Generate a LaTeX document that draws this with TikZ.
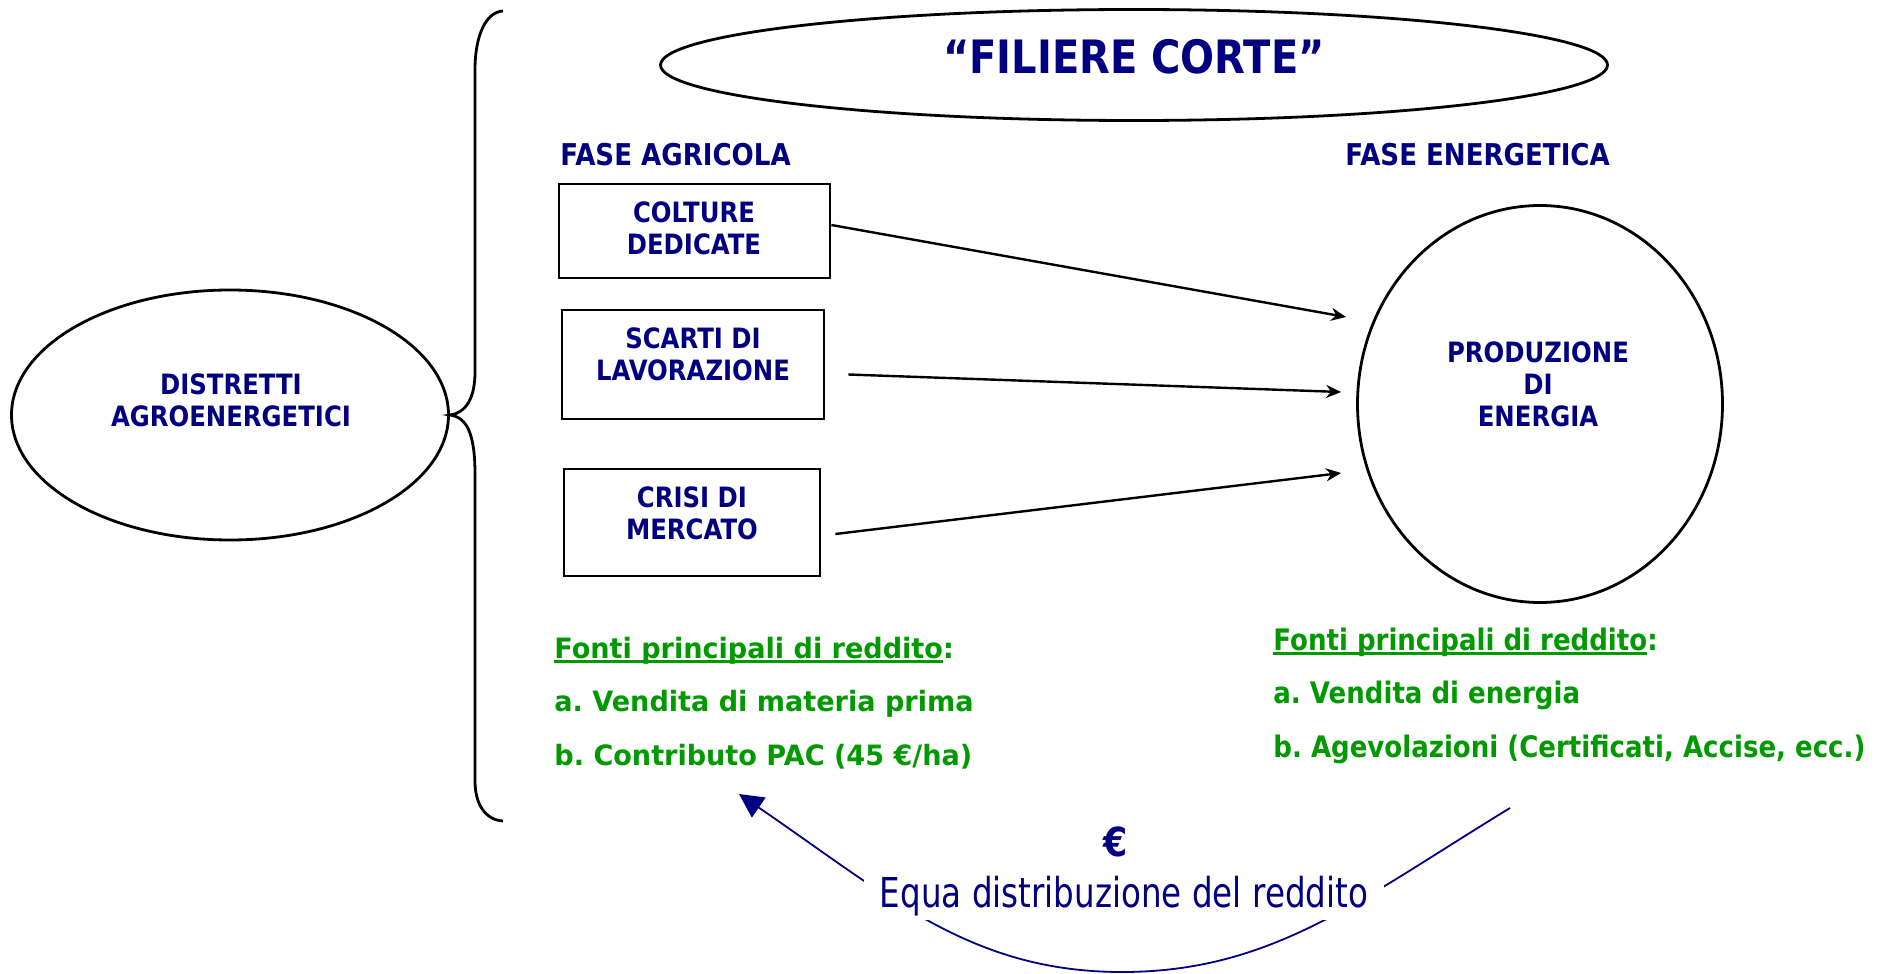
\documentclass[tikz,border=0pt]{standalone}
\usepackage{fontspec}
\setmainfont{DejaVu Sans}
\newfontfamily\fT{DejaVu Sans}[FakeStretch=0.87]
\newfontfamily\fG{DejaVu Sans}[FakeStretch=0.88]
\newfontfamily\fV{DejaVu Sans}[FakeStretch=0.967]
\newfontfamily\fR{DejaVu Sans}[FakeStretch=0.79]
\usetikzlibrary{shapes.geometric,arrows.meta}
\definecolor{navy}{RGB}{0,0,128}
\definecolor{grn}{RGB}{0,153,0}
\newcommand\myul[1]{\setbox0\hbox{#1}\rlap{\rule[-2.5pt]{\wd0}{1.4pt}}\box0}
\frenchspacing
\begin{document}
\begin{tikzpicture}[x=0.5pt,y=-0.5pt,
  bline/.style={line width=1.4pt, draw=black},
  btxt/.style={font=\fT\bfseries\fontsize{14}{16}\selectfont, text=navy, align=center, inner sep=0pt},
  htxt/.style={font=\fT\bfseries\fontsize{15}{18}\selectfont, text=navy, anchor=west, inner sep=0pt},
  boxr/.style={rectangle, bline, inner sep=0pt},
  ell/.style={ellipse, bline, inner sep=0pt},
  gtxtL/.style={text=grn, anchor=base west, inner sep=0pt, font=\fV\bfseries\fontsize{14}{16}\selectfont},
  gtxtR/.style={text=grn, anchor=base west, inner sep=0pt, font=\fG\bfseries\fontsize{14.8}{17}\selectfont},
  arr/.style={-{Stealth[length=7.5pt,width=6.5pt,inset=2.5pt]}, line width=1.2pt},
]
\useasboundingbox (0,0) rectangle (1886,974);

% title ellipse
\node[ell, minimum width=473.5pt, minimum height=55.5pt] (top) at (1134,65) {};
\node[font=\fT\bfseries\fontsize{23}{26}\selectfont, text=navy, inner sep=0pt] (title) at (1134,57) {“FILIERE CORTE”};

% left ellipse
\node[ell, minimum width=218.5pt, minimum height=125pt] (dist) at (230,415) {};
\node[btxt] (distT) at (231,400) {DISTRETTI\\AGROENERGETICI};

% brace
\draw[bline] (503,11) .. controls (486,12) and (475,35) .. (475,70) -- (475,372)
  .. controls (475,398) and (466,413) .. (dist.east)
  .. controls (466,417) and (475,432) .. (475,474) -- (475,781)
  .. controls (475,805) and (486,820) .. (503,821);

% headings
\node[htxt] (fa) at (560,155) {FASE AGRICOLA};
\node[htxt] (fe) at (1345,155) {FASE ENERGETICA};

% boxes
\node[boxr, minimum width=135.5pt, minimum height=47pt] (b1) at (694.5,231) {};
\node[boxr, minimum width=131pt, minimum height=54.5pt] (b2) at (693,364.5) {};
\node[boxr, minimum width=128pt, minimum height=53.5pt] (b3) at (692,522.5) {};
\node[btxt] (t1) at (694,228) {COLTURE\\DEDICATE};
\node[btxt] (t2) at (693,354) {SCARTI DI\\LAVORAZIONE};
\node[btxt] (t3) at (692,513) {CRISI DI\\MERCATO};

% energy production
\node[ell, minimum width=182.5pt, minimum height=198.5pt] (pe) at (1540,404) {};
\node[btxt] (peT) at (1538,384) {PRODUZIONE\\DI\\ENERGIA};

% arrows
\draw[arr] ([yshift=3pt]b1.east) -- ([xshift=-5pt,yshift=43.5pt]pe.west);
\draw[arr] ([xshift=11.5pt,yshift=-5pt]b2.east) -- ([xshift=-7.5pt,yshift=6pt]pe.west);
\draw[arr] ([xshift=7pt,yshift=-5.75pt]b3.east) -- ([xshift=-7.5pt,yshift=-34.5pt]pe.west);

% green texts
\node[gtxtL] (l1) at (554,658) {\myul{Fonti principali di reddito}:};
\node[gtxtL] (l2) at (554,711) {a. Vendita di materia prima};
\node[gtxtL] (l3) at (554,765) {b. Contributo PAC (45 €/ha)};
\node[gtxtR] (r1) at (1273,650) {\myul{Fonti principali di reddito}:};
\node[gtxtR] (r2) at (1273,703) {a. Vendita di energia};
\node[gtxtR] (r3) at (1273,757) {b. Agevolazioni (Certificati, Accise, ecc.)};

% redistribution curve
\coordinate (cs) at (1510,808);
\coordinate (cb) at (1122,972);
\coordinate (ce) at (739,794);
\draw[navy, line width=0.9pt, -{Triangle[length=12pt,width=12pt]}]
  (cs) .. controls (1360,899.5) and (1272,972) .. (cb)
  .. controls (972,972) and (890,897.5) .. (ce);
\node[font=\fT\bfseries\fontsize{20}{24}\selectfont, text=navy, inner sep=0pt] (eur) at (1116,842) {€};
\node[font=\fR\fontsize{20.6}{24}\selectfont, text=navy, fill=white, inner xsep=8pt, inner ysep=2pt] (equa) at (1124,896) {Equa distribuzione del reddito};
\end{tikzpicture}
\end{document}
